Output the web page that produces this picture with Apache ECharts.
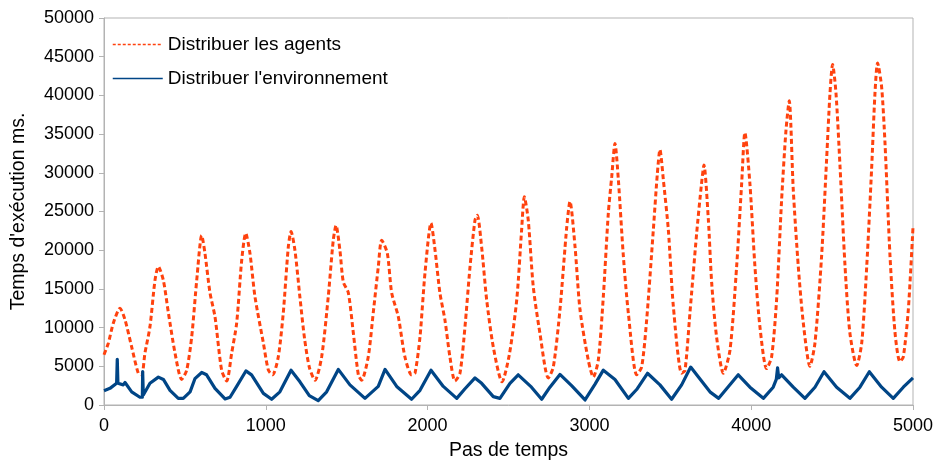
<!DOCTYPE html>
<html>
<head>
<meta charset="utf-8">
<script src="https://cdn.jsdelivr.net/npm/echarts@6/dist/echarts.min.js"></script>
<style>
html,body{margin:0;padding:0;background:#fff;}
#chart{width:936px;height:464px;}
</style>
</head>
<body>
<div id="chart"></div>
<script>
const seriesNames = ["Distribuer les agents", "Distribuer l'environnement"];
const xTicks = [0, 1000, 2000, 3000, 4000, 5000];
const yTicks = [0, 5000, 10000, 15000, 20000, 25000, 30000, 35000, 40000, 45000, 50000];

const agentsX = [0,27,58,99,130,171,212,233,253,284,315,336,367,398,439,480,511,542,573,604,624,655,686,727,758,789,820,851,876,902,933,985,1016,1042,1077,1108,1139,1156,1180,1211,1240,1270,1304,1345,1386,1417,1434,1458,1479,1510,1541,1572,1592,1633,1664,1695,1716,1751,1778,1819,1860,1901,1922,1953,1984,2021,2046,2076,2107,2138,2169,2200,2231,2262,2293,2307,2334,2365,2406,2460,2505,2551,2581,2598,2622,2653,2694,2746,2777,2818,2860,2880,2911,2942,2993,3024,3055,3086,3117,3138,3158,3179,3210,3241,3292,3323,3354,3395,3420,3436,3457,3488,3519,3570,3591,3621,3663,3693,3708,3735,3756,3786,3828,3869,3910,3941,3961,3992,4023,4054,4095,4126,4157,4188,4215,4235,4260,4291,4322,4363,4394,4435,4466,4487,4503,4524,4549,4580,4610,4652,4683,4714,4744,4765,4781,4806,4827,4858,4889,4919,4940,4971,5000];
const agentsY = [6500,8000,10600,12500,11000,7500,4100,3900,6700,10100,16100,17900,16100,11900,6700,3300,4500,8800,16100,21900,19600,14500,11400,4500,3100,6700,10600,18700,22200,19600,14000,8000,4500,3900,6200,11900,20400,22400,20000,13900,8500,4800,3200,6200,14000,21300,23200,20000,15900,14500,9300,3900,3200,6200,11900,17800,21300,19600,14500,11400,6200,3900,4100,8800,17100,23500,20000,14500,11000,6200,3100,4100,10100,17800,23900,24500,20400,13600,7500,3000,6500,13600,22600,26900,23900,15300,9300,3500,4900,12300,23000,26300,20500,12300,5800,3600,5800,14000,24800,29500,33800,29100,19200,11800,3900,4900,11000,22600,29900,33000,29100,22600,12700,4100,4500,11800,22200,28600,31000,24000,15700,8800,4100,7100,17900,28600,35200,28600,17900,10100,4700,6200,13600,26500,35500,39300,27800,17900,10600,5000,8000,19200,31700,40300,44000,40300,30800,17900,9300,5100,8000,17900,30400,40300,44200,41100,33800,19200,9300,5600,6200,12300,23000];

const envX = [0,37,78,82,86,119,130,171,222,237,239,243,284,336,367,408,459,490,532,562,604,634,686,748,779,820,877,912,985,1036,1087,1156,1211,1269,1324,1376,1448,1520,1613,1695,1737,1809,1901,1953,2021,2097,2180,2231,2293,2334,2406,2447,2509,2560,2642,2705,2756,2818,2890,2973,3035,3086,3158,3241,3292,3359,3436,3508,3570,3626,3663,3745,3799,3920,3992,4075,4136,4155,4163,4170,4188,4260,4332,4394,4450,4528,4610,4672,4730,4806,4878,4940,5000];
const envY = [1850,2150,2800,5900,2800,2600,2900,1700,1000,1000,4300,1300,2800,3600,3300,1900,860,860,1700,3400,4200,3900,2150,780,1000,2400,4400,3900,1500,740,1700,4500,3000,1200,560,1700,4600,2600,860,2400,4600,2400,740,1900,4500,2400,860,2100,3500,2800,1080,860,2800,3900,2300,740,2300,3950,2500,650,2700,4500,3300,860,2000,4100,2600,740,2600,4900,3900,1700,860,3900,2300,860,2300,3300,4800,3500,3900,2300,860,2300,4300,2300,860,2300,4300,2300,860,2300,3500];

const agentsData = agentsX.map((x, i) => [x, agentsY[i]]);
const envData = envX.map((x, i) => [x, envY[i]]);

const chart = echarts.init(document.getElementById('chart'), null, {renderer: 'canvas'});
const FONT = "'Liberation Sans', Arial, sans-serif";
const plain = v => String(v);
chart.setOption({
  animation: false,
  backgroundColor: '#ffffff',
  textStyle: {fontFamily: FONT},
  grid: {left: 104, right: 23, top: 18, bottom: 59, containLabel: false, outerBoundsMode: 'none',
         show: true, borderColor: '#b3b3b3', borderWidth: 1},
  legend: {
    orient: 'vertical',
    left: 107,
    top: 30,
    itemWidth: 50,
    itemHeight: 12,
    itemGap: 15,
    itemStyle: {opacity: 0},
    textStyle: {fontFamily: FONT, fontSize: 19, color: '#000'},
    data: [
      {name: seriesNames[0], lineStyle: {width: 1.5, type: [3, 2]}},
      {name: seriesNames[1], lineStyle: {width: 1.5}}
    ]
  },
  xAxis: {
    type: 'value', min: xTicks[0], max: xTicks[xTicks.length - 1], interval: 1000,
    name: 'Pas de temps', nameLocation: 'middle', nameGap: 36,
    nameTextStyle: {fontFamily: FONT, fontSize: 19.5, color: '#000'},
    axisLine: {lineStyle: {color: '#b3b3b3', width: 1}},
    axisTick: {show: true, length: 5, lineStyle: {color: '#b3b3b3'}},
    axisLabel: {fontFamily: FONT, fontSize: 18, color: '#000', margin: 12, formatter: plain},
    splitLine: {show: false}
  },
  yAxis: {
    type: 'value', min: yTicks[0], max: yTicks[yTicks.length - 1], interval: 5000,
    name: "Temps d'exécution ms.", nameLocation: 'middle', nameGap: 75, nameRotate: 90,
    nameTextStyle: {fontFamily: FONT, fontSize: 19.5, color: '#000'},
    axisLine: {show: true, lineStyle: {color: '#b3b3b3', width: 1}},
    axisTick: {show: true, length: 5, lineStyle: {color: '#b3b3b3'}},
    axisLabel: {fontFamily: FONT, fontSize: 18, color: '#000', margin: 10, formatter: plain},
    splitLine: {show: false}
  },
  series: [
    {
      name: seriesNames[0], type: 'line', data: agentsData, showSymbol: false, symbol: 'none',
      smooth: 0.25, z: 2,
      lineStyle: {color: '#ff420e', width: 3, type: [5, 3]},
      itemStyle: {color: '#ff420e'}
    },
    {
      name: seriesNames[1], type: 'line', data: envData, showSymbol: false, symbol: 'none',
      smooth: false, z: 3,
      lineStyle: {color: '#004586', width: 3.2, join: 'round'},
      itemStyle: {color: '#004586'}
    }
  ]
});
</script>
</body>
</html>
